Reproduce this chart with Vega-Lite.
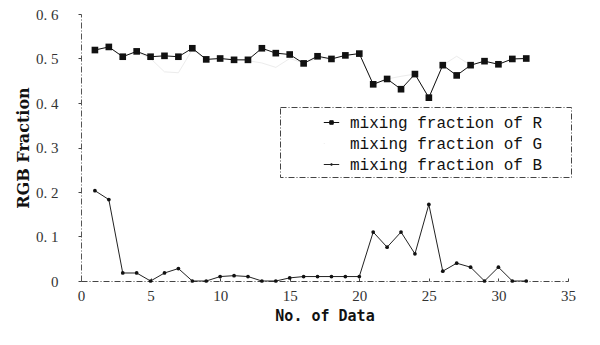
{
  "$schema": "https://vega.github.io/schema/vega-lite/v6.json",
  "width": 487,
  "height": 267,
  "autosize": {"type": "none"},
  "padding": {"left": 81, "top": 14, "right": 32, "bottom": 64},
  "background": "white",
  "config": {"view": {"stroke": null}},
  "datasets": {
    "d": [
      {"n": 1, "s": "mixing fraction of G", "v": 0.52},
      {"n": 2, "s": "mixing fraction of G", "v": 0.525},
      {"n": 3, "s": "mixing fraction of G", "v": 0.505},
      {"n": 4, "s": "mixing fraction of G", "v": 0.515},
      {"n": 5, "s": "mixing fraction of G", "v": 0.5},
      {"n": 6, "s": "mixing fraction of G", "v": 0.47},
      {"n": 7, "s": "mixing fraction of G", "v": 0.468},
      {"n": 8, "s": "mixing fraction of G", "v": 0.52},
      {"n": 9, "s": "mixing fraction of G", "v": 0.498},
      {"n": 10, "s": "mixing fraction of G", "v": 0.5},
      {"n": 11, "s": "mixing fraction of G", "v": 0.497},
      {"n": 12, "s": "mixing fraction of G", "v": 0.495},
      {"n": 13, "s": "mixing fraction of G", "v": 0.49},
      {"n": 14, "s": "mixing fraction of G", "v": 0.48},
      {"n": 15, "s": "mixing fraction of G", "v": 0.5},
      {"n": 16, "s": "mixing fraction of G", "v": 0.49},
      {"n": 17, "s": "mixing fraction of G", "v": 0.5},
      {"n": 18, "s": "mixing fraction of G", "v": 0.499},
      {"n": 19, "s": "mixing fraction of G", "v": 0.507},
      {"n": 20, "s": "mixing fraction of G", "v": 0.511},
      {"n": 21, "s": "mixing fraction of G", "v": 0.442},
      {"n": 22, "s": "mixing fraction of G", "v": 0.454},
      {"n": 23, "s": "mixing fraction of G", "v": 0.46},
      {"n": 24, "s": "mixing fraction of G", "v": 0.465},
      {"n": 25, "s": "mixing fraction of G", "v": 0.412},
      {"n": 26, "s": "mixing fraction of G", "v": 0.485},
      {"n": 27, "s": "mixing fraction of G", "v": 0.505},
      {"n": 28, "s": "mixing fraction of G", "v": 0.485},
      {"n": 29, "s": "mixing fraction of G", "v": 0.494},
      {"n": 30, "s": "mixing fraction of G", "v": 0.487},
      {"n": 31, "s": "mixing fraction of G", "v": 0.499},
      {"n": 32, "s": "mixing fraction of G", "v": 0.5},
      {"n": 1, "s": "mixing fraction of B", "v": 0.203},
      {"n": 2, "s": "mixing fraction of B", "v": 0.183},
      {"n": 3, "s": "mixing fraction of B", "v": 0.018},
      {"n": 4, "s": "mixing fraction of B", "v": 0.018},
      {"n": 5, "s": "mixing fraction of B", "v": 0.0},
      {"n": 6, "s": "mixing fraction of B", "v": 0.018},
      {"n": 7, "s": "mixing fraction of B", "v": 0.028},
      {"n": 8, "s": "mixing fraction of B", "v": 0.0},
      {"n": 9, "s": "mixing fraction of B", "v": 0.0},
      {"n": 10, "s": "mixing fraction of B", "v": 0.01},
      {"n": 11, "s": "mixing fraction of B", "v": 0.012},
      {"n": 12, "s": "mixing fraction of B", "v": 0.01},
      {"n": 13, "s": "mixing fraction of B", "v": 0.0},
      {"n": 14, "s": "mixing fraction of B", "v": 0.0},
      {"n": 15, "s": "mixing fraction of B", "v": 0.007},
      {"n": 16, "s": "mixing fraction of B", "v": 0.01},
      {"n": 17, "s": "mixing fraction of B", "v": 0.01},
      {"n": 18, "s": "mixing fraction of B", "v": 0.01},
      {"n": 19, "s": "mixing fraction of B", "v": 0.01},
      {"n": 20, "s": "mixing fraction of B", "v": 0.01},
      {"n": 21, "s": "mixing fraction of B", "v": 0.11},
      {"n": 22, "s": "mixing fraction of B", "v": 0.076},
      {"n": 23, "s": "mixing fraction of B", "v": 0.11},
      {"n": 24, "s": "mixing fraction of B", "v": 0.061},
      {"n": 25, "s": "mixing fraction of B", "v": 0.172},
      {"n": 26, "s": "mixing fraction of B", "v": 0.022},
      {"n": 27, "s": "mixing fraction of B", "v": 0.04},
      {"n": 28, "s": "mixing fraction of B", "v": 0.031},
      {"n": 29, "s": "mixing fraction of B", "v": 0.0},
      {"n": 30, "s": "mixing fraction of B", "v": 0.031},
      {"n": 31, "s": "mixing fraction of B", "v": 0.0},
      {"n": 32, "s": "mixing fraction of B", "v": 0.0},
      {"n": 1, "s": "mixing fraction of R", "v": 0.519},
      {"n": 2, "s": "mixing fraction of R", "v": 0.526},
      {"n": 3, "s": "mixing fraction of R", "v": 0.504},
      {"n": 4, "s": "mixing fraction of R", "v": 0.516},
      {"n": 5, "s": "mixing fraction of R", "v": 0.504},
      {"n": 6, "s": "mixing fraction of R", "v": 0.506},
      {"n": 7, "s": "mixing fraction of R", "v": 0.504},
      {"n": 8, "s": "mixing fraction of R", "v": 0.523},
      {"n": 9, "s": "mixing fraction of R", "v": 0.498},
      {"n": 10, "s": "mixing fraction of R", "v": 0.5},
      {"n": 11, "s": "mixing fraction of R", "v": 0.497},
      {"n": 12, "s": "mixing fraction of R", "v": 0.497},
      {"n": 13, "s": "mixing fraction of R", "v": 0.523},
      {"n": 14, "s": "mixing fraction of R", "v": 0.512},
      {"n": 15, "s": "mixing fraction of R", "v": 0.509},
      {"n": 16, "s": "mixing fraction of R", "v": 0.489},
      {"n": 17, "s": "mixing fraction of R", "v": 0.505},
      {"n": 18, "s": "mixing fraction of R", "v": 0.499},
      {"n": 19, "s": "mixing fraction of R", "v": 0.507},
      {"n": 20, "s": "mixing fraction of R", "v": 0.511},
      {"n": 21, "s": "mixing fraction of R", "v": 0.442},
      {"n": 22, "s": "mixing fraction of R", "v": 0.454},
      {"n": 23, "s": "mixing fraction of R", "v": 0.431},
      {"n": 24, "s": "mixing fraction of R", "v": 0.465},
      {"n": 25, "s": "mixing fraction of R", "v": 0.412},
      {"n": 26, "s": "mixing fraction of R", "v": 0.485},
      {"n": 27, "s": "mixing fraction of R", "v": 0.462},
      {"n": 28, "s": "mixing fraction of R", "v": 0.485},
      {"n": 29, "s": "mixing fraction of R", "v": 0.494},
      {"n": 30, "s": "mixing fraction of R", "v": 0.487},
      {"n": 31, "s": "mixing fraction of R", "v": 0.499},
      {"n": 32, "s": "mixing fraction of R", "v": 0.5}
    ]
  },
  "data": {"name": "d"},
  "encoding": {
    "x": {
      "field": "n", "type": "quantitative",
      "scale": {"domain": [0, 35], "nice": false, "zero": false},
      "axis": {
        "title": "No. of Data", "values": [0, 5, 10, 15, 20, 25, 30, 35],
        "grid": false, "domainColor": "#444", "domainDash": [6, 2, 1, 2], "domainWidth": 1,
        "tickSize": -3, "tickColor": "#444",
        "labelFont": "Liberation Serif", "labelFontSize": 15, "labelColor": "#333", "labelPadding": 10,
        "labelFlush": false,
        "titleFont": "DejaVu Sans Mono", "titleFontSize": 15, "titleFontWeight": "bold", "titleColor": "#111", "titlePadding": 5
      }
    },
    "y": {
      "field": "v", "type": "quantitative",
      "scale": {"domain": [0, 0.6], "nice": false},
      "axis": {
        "title": "RGB Fraction", "values": [0, 0.1, 0.2, 0.3, 0.4, 0.5, 0.6],
        "grid": false, "domainColor": "#555", "domainDash": [6, 2, 1, 2], "domainWidth": 1,
        "tickSize": 3, "tickColor": "#444",
        "labelExpr": "datum.value === 0 ? '0' : replace(format(datum.value, '.1f'), '.', '. ')",
        "labelFont": "Liberation Serif", "labelFontSize": 15, "labelColor": "#333", "labelPadding": 20,
        "labelFlush": false,
        "encode": {"labels": {"update": {"dx": {"signal": "datum.value === 0 ? 8 : 0"}}}},
        "titleFont": "DejaVu Serif", "titleFontSize": 16, "titleFontWeight": "bold", "titleColor": "#111", "titlePadding": 4
      }
    }
  },
  "layer": [
    {
      "mark": {"type": "line", "strokeWidth": 1},
      "encoding": {
        "color": {
          "field": "s", "type": "nominal",
          "scale": {"domain": ["mixing fraction of R", "mixing fraction of G", "mixing fraction of B"], "range": ["#111", "#ececec", "#222"]},
          "legend": {
            "title": null, "orient": "none", "legendX": 199, "legendY": 93,
            "labelFont": "Liberation Mono", "labelFontSize": 16, "labelColor": "#111", "labelLimit": 400,
            "labelExpr": "datum.label + '\u2800\u2800'",
            "symbolSize": 484, "symbolOffset": 36, "labelOffset": 7,
            "symbolStrokeWidth": 1, "symbolStrokeColor": "#222", "symbolFillColor": "#111",
            "rowPadding": 1, "padding": 4,
            "strokeColor": "#444",
            "encode": {"legend": {"update": {"strokeDash": {"value": [6, 2, 1, 2]}}}}
          }
        }
      }
    },
    {
      "transform": [{"filter": "datum.s === 'mixing fraction of R'"}],
      "mark": {"type": "square", "size": 44, "color": "#111", "opacity": 1}
    },
    {
      "transform": [{"filter": "datum.s === 'mixing fraction of B'"}],
      "mark": {"type": "circle", "size": 14, "color": "#111", "opacity": 1}
    },
    {
      "transform": [{"filter": "false"}],
      "mark": {"type": "point", "filled": true, "opacity": 1},
      "encoding": {
        "color": {"field": "s", "type": "nominal"},
        "shape": {
          "field": "s", "type": "nominal",
          "scale": {"domain": ["mixing fraction of R", "mixing fraction of G", "mixing fraction of B"], "range": ["M-0.7,0H0.7M-0.16,-0.16H0.16V0.16H-0.16Z", "M-0.7,0H-0.62", "M-0.7,0H0.7M-0.06,-0.06H0.06V0.06H-0.06Z"]}
        }
      }
    }
  ]
}
